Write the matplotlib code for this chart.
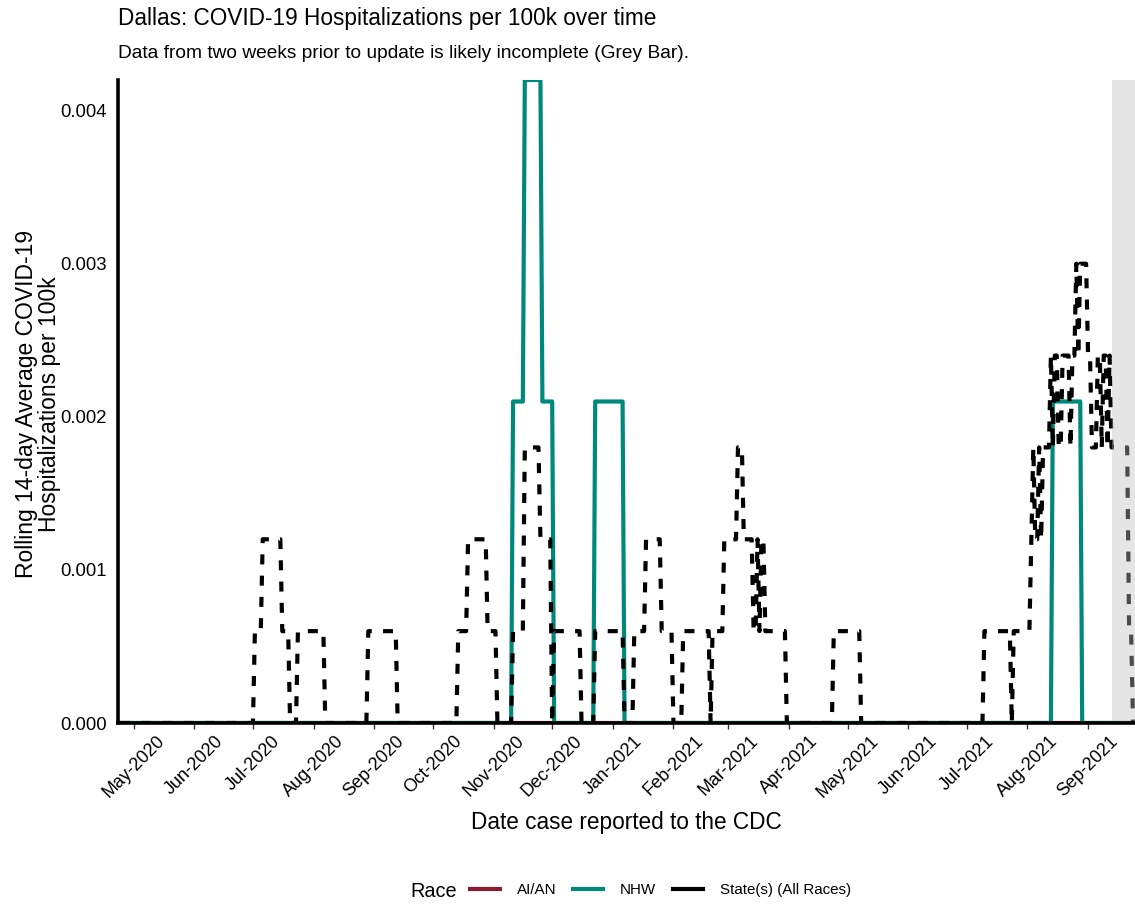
import numpy as np
import pandas as pd
import matplotlib
matplotlib.use('Agg')
import matplotlib.pyplot as plt
import matplotlib.dates as mdates
from matplotlib.lines import Line2D

plt.rcParams['font.family'] = ['Liberation Sans', 'DejaVu Sans']

# State(s) (All Races) - rolling 14 day average
state_dates = ['2020-04-24', '2020-07-01', '2020-07-02', '2020-07-05', '2020-07-06', '2020-07-15',
               '2020-07-16', '2020-07-19', '2020-07-20', '2020-07-23', '2020-07-24', '2020-08-06',
               '2020-08-07', '2020-08-28', '2020-08-29', '2020-09-12', '2020-09-13', '2020-10-13',
               '2020-10-14', '2020-10-18', '2020-10-19', '2020-10-28', '2020-10-29', '2020-11-02',
               '2020-11-03', '2020-11-10', '2020-11-11', '2020-11-16', '2020-11-17', '2020-11-24',
               '2020-11-25', '2020-11-30', '2020-12-01', '2020-12-02', '2020-12-15', '2020-12-16',
               '2020-12-22', '2020-12-23', '2021-01-06', '2021-01-07', '2021-01-11', '2021-01-12',
               '2021-01-17', '2021-01-18', '2021-01-25', '2021-01-26', '2021-01-31', '2021-02-01',
               '2021-02-05', '2021-02-06', '2021-02-19', '2021-02-20', '2021-02-21', '2021-02-26',
               '2021-02-27', '2021-03-05', '2021-03-06', '2021-03-08', '2021-03-09', '2021-03-13',
               '2021-03-14', '2021-03-15', '2021-03-16', '2021-03-17', '2021-03-18', '2021-03-19',
               '2021-03-20', '2021-03-30', '2021-03-31', '2021-04-23', '2021-04-24', '2021-05-07',
               '2021-05-08', '2021-07-09', '2021-07-10', '2021-07-23', '2021-07-24', '2021-07-25',
               '2021-08-02', '2021-08-03', '2021-08-04', '2021-08-05', '2021-08-06', '2021-08-07',
               '2021-08-08', '2021-08-09', '2021-08-12', '2021-08-13', '2021-08-14', '2021-08-15',
               '2021-08-16', '2021-08-17', '2021-08-18', '2021-08-19', '2021-08-22', '2021-08-23',
               '2021-08-24', '2021-08-25', '2021-08-26', '2021-08-27', '2021-08-28', '2021-08-31',
               '2021-09-01', '2021-09-02', '2021-09-03', '2021-09-05', '2021-09-06', '2021-09-07',
               '2021-09-08', '2021-09-09', '2021-09-10', '2021-09-11', '2021-09-12', '2021-09-13',
               '2021-09-21', '2021-09-22', '2021-09-23', '2021-09-24']
state_vals = [0, 0, 0.0006, 0.0006, 0.0012, 0.0012,
              0.0006, 0.0006, 0, 0, 0.0006, 0.0006,
              0, 0, 0.0006, 0.0006, 0, 0,
              0.0006, 0.0006, 0.0012, 0.0012, 0.0006, 0.0006,
              0, 0, 0.0006, 0.0006, 0.0018, 0.0018,
              0.0012, 0.0012, 0, 0.0006, 0.0006, 0,
              0, 0.0006, 0.0006, 0, 0, 0.0006,
              0.0006, 0.0012, 0.0012, 0.0006, 0.0006, 0,
              0, 0.0006, 0.0006, 0, 0.0006, 0.0006,
              0.0012, 0.0012, 0.0018, 0.0018, 0.0012, 0.0012,
              0.0006, 0.0006, 0.0012, 0.0006, 0.0012, 0.0012,
              0.0006, 0.0006, 0, 0, 0.0006, 0.0006,
              0, 0, 0.0006, 0.0006, 0, 0.0006,
              0.0006, 0.0012, 0.0018, 0.0012, 0.0012, 0.0018,
              0.0012, 0.0018, 0.0018, 0.0024, 0.0018, 0.0024,
              0.0024, 0.0018, 0.0018, 0.0024, 0.0024, 0.0018,
              0.0024, 0.0024, 0.0030, 0.0024, 0.0030, 0.0030,
              0.0024, 0.0024, 0.0018, 0.0018, 0.0024, 0.0024,
              0.0018, 0.0024, 0.0024, 0.0018, 0.0024, 0.0018,
              0.0018, 0.0006, 0.0006, 0]

# NHW
nhw_dates = ['2020-04-24', '2020-11-10', '2020-11-11', '2020-11-16', '2020-11-17', '2020-11-25',
             '2020-11-26', '2020-12-01', '2020-12-02', '2020-12-22', '2020-12-23', '2021-01-06',
             '2021-01-07', '2021-08-13', '2021-08-14', '2021-08-28', '2021-08-29', '2021-09-24']
nhw_vals = [0, 0, 0.0021, 0.0021, 0.0042, 0.0042,
            0.0021, 0.0021, 0, 0, 0.0021, 0.0021,
            0, 0, 0.0021, 0.0021, 0, 0]

# AI/AN
aian_dates = ['2020-04-24', '2021-09-24']
aian_vals = [0, 0]

grey_start = '2021-09-13'
x_start, x_end = '2020-04-23', '2021-09-25'

col_aian = '#8b1c30'
col_nhw = '#00897b'
col_state = '#000000'

fig = plt.figure(figsize=(11.35, 9.13), dpi=100)
ax = fig.add_axes([118 / 1135, 1 - 723 / 913, 1 - 118 / 1135, (723 - 80) / 913])

ax.plot(pd.to_datetime(aian_dates), aian_vals, color=col_aian, lw=3, zorder=2)
ax.plot(pd.to_datetime(nhw_dates), nhw_vals, color=col_nhw, lw=3, zorder=3,
        solid_joinstyle='round')
ax.plot(pd.to_datetime(state_dates), state_vals, color=col_state, lw=3, zorder=4,
        dashes=(2.4, 2.7), dash_capstyle='butt')

# last two weeks: likely incomplete
ax.axvspan(pd.Timestamp(grey_start), pd.Timestamp(x_end) + pd.Timedelta(days=5),
           color='#bebebe', alpha=0.4, lw=0, zorder=5)

ax.set_xlim(pd.Timestamp(x_start), pd.Timestamp(x_end))
ax.set_ylim(0, 0.0042)

ticks = pd.date_range('2020-05-01', '2021-09-01', freq='MS')
ax.set_xticks(ticks)
ax.xaxis.set_major_formatter(mdates.DateFormatter('%b-%Y'))
ax.set_yticks([0, 0.001, 0.002, 0.003, 0.004])
ax.set_yticklabels(['0.000', '0.001', '0.002', '0.003', '0.004'])
for lab in ax.get_xticklabels():
    lab.set_rotation(45)
    lab.set_ha('center')
ax.tick_params(axis='x', length=4, width=1, color='#333333', labelsize=13, pad=3)
ax.tick_params(axis='y', length=0, labelsize=13.3, pad=8)

for s in ['top', 'right']:
    ax.spines[s].set_visible(False)
for s in ['left', 'bottom']:
    ax.spines[s].set_linewidth(2.6)
    ax.spines[s].set_zorder(6)

ax.set_xlabel('Date case reported to the CDC', fontsize=16.3)
ax.xaxis.set_label_coords(0.5, (723 - 811) / 643)
fig.text(38 / 1135, 1 - 404 / 913, 'Rolling 14-day Average COVID-19\nHospitalizations per 100k',
         rotation=90, ha='center', va='center', fontsize=16.5, multialignment='center',
         linespacing=0.95)

fig.text(118 / 1135, 1 - 7 / 913, 'Dallas: COVID-19 Hospitalizations per 100k over time',
         ha='left', va='top', fontsize=16.3)
fig.text(118 / 1135, 1 - 45 / 913, 'Data from two weeks prior to update is likely incomplete (Grey Bar).',
         ha='left', va='top', fontsize=13.8)

fig.text(410 / 1135, 1 - 891 / 913, 'Race', ha='left', va='center', fontsize=14.3)
handles = [Line2D([], [], color=col_aian, lw=3),
           Line2D([], [], color=col_nhw, lw=3),
           Line2D([], [], color=col_state, lw=3)]
fig.legend(handles, ['AI/AN', 'NHW', 'State(s) (All Races)'], ncol=3, frameon=False,
           loc='center left', bbox_to_anchor=(470 / 1135, 1 - 890 / 913), fontsize=10.9,
           handlelength=2.0, handletextpad=1.1, columnspacing=1.1, borderpad=0,
           borderaxespad=0)

fig.savefig('out.png', dpi=100)
